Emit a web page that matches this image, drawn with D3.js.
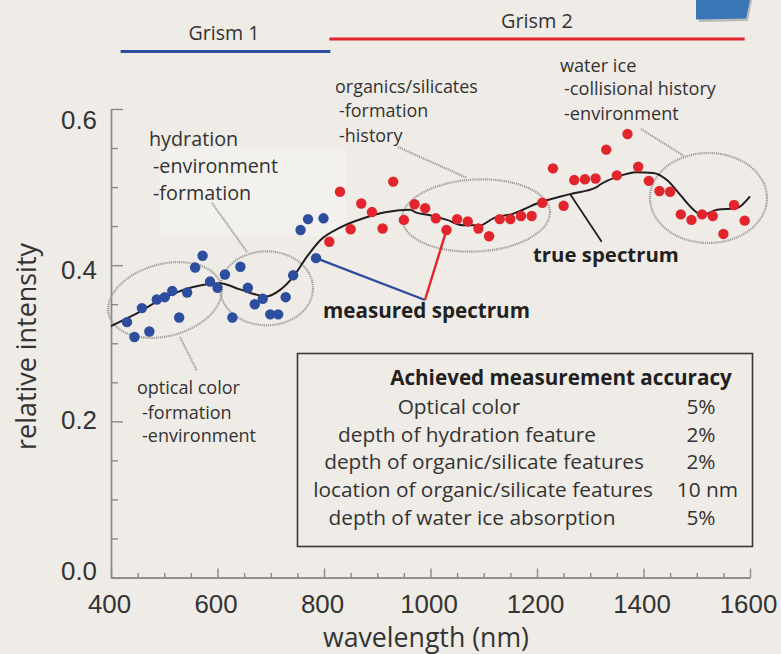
<!DOCTYPE html>
<html>
<head>
<meta charset="utf-8">
<script src="https://cdn.jsdelivr.net/npm/d3@7"></script>
<style>
  html, body { margin: 0; padding: 0; background: #efebe6; }
  svg { display: block; font-family: "Open Sans", "DejaVu Sans", sans-serif; }
</style>
</head>
<body>
<svg id="chart" width="781" height="654"></svg>
<script>
// ---- measured spectrum, grism 1 (visible) ----
const grism1Wavelength = [430, 444, 458, 472, 486, 501, 515, 528, 543, 558, 572, 586, 600, 614,
  628, 643, 657, 670, 685, 699, 714, 728, 742, 756, 770, 785, 799];
const grism1Intensity = [0.327, 0.308, 0.345, 0.315, 0.356, 0.359, 0.367, 0.333, 0.365, 0.397,
  0.412, 0.379, 0.371, 0.388, 0.333, 0.398, 0.371, 0.350, 0.357, 0.337, 0.337, 0.359, 0.387,
  0.445, 0.459, 0.409, 0.460];

// ---- measured spectrum, grism 2 (near infrared) ----
const grism2Wavelength = [810, 830, 850, 870, 890, 910, 930, 950, 970, 990, 1010, 1030, 1050,
  1070, 1090, 1110, 1130, 1150, 1170, 1190, 1210, 1230, 1250, 1270, 1290, 1310, 1330, 1350,
  1370, 1390, 1410, 1430, 1450, 1470, 1490, 1510, 1530, 1550, 1570, 1590];
const grism2Intensity = [0.430, 0.494, 0.446, 0.479, 0.468, 0.447, 0.507, 0.458, 0.478, 0.473,
  0.460, 0.445, 0.459, 0.456, 0.447, 0.437, 0.459, 0.459, 0.463, 0.463, 0.480, 0.524, 0.476,
  0.509, 0.510, 0.511, 0.548, 0.515, 0.568, 0.526, 0.508, 0.495, 0.494, 0.465, 0.458, 0.465,
  0.463, 0.440, 0.477, 0.457];

// ---- true (model) spectrum ----
const trueWavelength = [400, 442, 505, 567, 605, 642, 692, 717, 742, 768, 793, 830, 874, 918,
  962, 971, 999, 1031, 1062, 1093, 1118, 1156, 1200, 1262, 1312, 1318, 1350, 1387, 1418, 1444,
  1469, 1494, 1509, 1538, 1575, 1600];
const trueIntensity = [0.322, 0.336, 0.360, 0.374, 0.377, 0.369, 0.360, 0.368, 0.385, 0.411,
  0.432, 0.448, 0.460, 0.468, 0.471, 0.468, 0.464, 0.458, 0.451, 0.451, 0.460, 0.466, 0.479,
  0.491, 0.500, 0.503, 0.513, 0.519, 0.518, 0.509, 0.490, 0.471, 0.464, 0.471, 0.473, 0.488];

// ---- axis ticks ----
const xMajorTicks = [400, 600, 800, 1000, 1200, 1400, 1600];
const xMinorTicks = [450, 500, 550, 650, 700, 750, 850, 900, 950, 1050, 1100, 1150,
  1250, 1300, 1350, 1450, 1500, 1550];
const yMajorTicks = [0, 0.2, 0.4, 0.6];
const yMinorTicks = [0.05, 0.1, 0.15, 0.25, 0.3, 0.35, 0.45, 0.5, 0.55];

// ---- grism coverage ----
const grismNames = ["Grism 1", "Grism 2"];
const grismStart = [418, 810];
const grismEnd = [812, 1590];

// ---- accuracy table ----
const accuracyTitle = "Achieved measurement accuracy";
const accuracyItems = ["Optical color", "depth of hydration feature",
  "depth of organic/silicate features", "location of organic/silicate features",
  "depth of water ice absorption"];
const accuracyValues = ["5%", "2%", "2%", "10 nm", "5%"];

// ---- science annotations ----
const featureNotes = [
  ["hydration", "-environment", "-formation"],
  ["organics/silicates", "-formation", "-history"],
  ["water ice", "-collisional history", "-environment"],
  ["optical color", "-formation", "-environment"]
];

const svg = d3.select("#chart");
const W = 781, H = 654;
const plot = { left: 111, right: 750, top: 109, bottom: 577.5 };

const x = d3.scaleLinear().domain([400, 1600]).range([plot.left, plot.right]);
const y = d3.scaleLinear().domain([0, 0.6]).range([plot.bottom, plot.top]);
// tick label centres sit slightly apart from their ticks
const yLabel = d3.scaleLinear().domain([0, 0.6]).range([570, 119]);

const BLUE = "#2d4d9e", RED = "#e2252c", INK = "#231f20", AXIS = "#8a8a8a";
const HATCH = "#9d9d9d";

function fitFont(sel, target) {
  const w = sel.node().getComputedTextLength();
  const s = parseFloat(sel.style("font-size"));
  const ns = s * target / w;
  sel.style("font-size", ns + "px");
  return ns;
}

// background and a lighter panel behind the hydration note
svg.append("rect").attr("width", W).attr("height", H).attr("fill", "#efebe6");
svg.append("rect").attr("x", 160).attr("y", 148).attr("width", 186).attr("height", 88)
  .attr("fill", "#f3f1ed");

// corner tab
svg.append("path").attr("d", "M699,0 L752,0 Q750,11 748,21 L699,22 Z")
  .attr("fill", "#9a9a9a").attr("opacity", 0.6);
svg.append("path").attr("d", "M696,0 L750,0 Q748,10 746,18.5 L696,19.5 Z")
  .attr("fill", "#3a76b6");

// ---- axes ----
const gx = svg.append("g").attr("transform", `translate(0,${plot.bottom})`);
gx.append("g").call(d3.axisBottom(x).tickValues(xMinorTicks).tickSize(-4.5).tickFormat("").tickSizeOuter(0));
const gxMajor = gx.append("g").call(d3.axisBottom(x).tickValues(xMajorTicks).tickSize(-9)
  .tickFormat(d3.format("d")).tickSizeOuter(0));

const gy = svg.append("g").attr("transform", `translate(${plot.left},0)`);
gy.append("g").call(d3.axisLeft(y).tickValues(yMinorTicks).tickSize(-7).tickFormat("").tickSizeOuter(0));
const gyMajor = gy.append("g").call(d3.axisLeft(y).tickValues(yMajorTicks).tickSize(-12)
  .tickFormat(d3.format(".1f")).tickSizeOuter(0));

svg.selectAll(".domain, .tick line").attr("stroke", AXIS).attr("stroke-width", 1.4);

const yTickText = gyMajor.selectAll(".tick text")
  .attr("fill", "#333").attr("font-family", null).style("font-size", "26px")
  .attr("x", -14).attr("dy", null);
const tickSize = fitFont(gyMajor.selectAll(".tick text").filter(d => d === 0.6), 36);
yTickText.style("font-size", tickSize + "px")
  .attr("y", d => yLabel(d) - y(d) + tickSize * 0.36);

gxMajor.selectAll(".tick text")
  .attr("fill", "#333").attr("font-family", null).style("font-size", tickSize + "px")
  .attr("dy", null).attr("y", 35).attr("dx", -2);

// axis titles
const yTitle = svg.append("text").text("relative intensity")
  .attr("transform", "translate(36,346.5) rotate(-90)")
  .attr("text-anchor", "middle").attr("fill", "#333").style("font-size", "24px");
fitFont(yTitle, 207);
const xTitle = svg.append("text").text("wavelength (nm)")
  .attr("x", 426).attr("y", 647).attr("text-anchor", "middle")
  .attr("fill", "#333").style("font-size", "24px");
fitFont(xTitle, 206);

// ---- grism coverage bars ----
const grismY = [51.5, 39];
const grismLabelY = [40, 28];
const grismLabelX = [224, 537];
const grismLabelW = [71, 72];
const grismColor = [BLUE, RED];
grismNames.forEach((name, i) => {
  svg.append("line")
    .attr("x1", x(grismStart[i])).attr("x2", x(grismEnd[i]))
    .attr("y1", grismY[i]).attr("y2", grismY[i])
    .attr("stroke", grismColor[i]).attr("stroke-width", 3);
  const t = svg.append("text").text(name)
    .attr("x", grismLabelX[i]).attr("y", grismLabelY[i])
    .attr("text-anchor", "middle").attr("fill", "#333").style("font-size", "18px");
  fitFont(t, grismLabelW[i]);
});

// ---- feature regions (hatched ellipses) ----
const regionRadii = [[58, 36, -15], [46.5, 37, 0], [74, 36, -3], [58.5, 45, 0]];
const regionPx = [[165, 300], [266.5, 288.3], [476, 215.5], [708.5, 198]];
regionPx.forEach((c, i) => {
  const [rx, ry, rot] = regionRadii[i];
  svg.append("ellipse")
    .attr("transform", `translate(${c[0]},${c[1]}) rotate(${rot})`)
    .attr("rx", rx).attr("ry", ry)
    .attr("fill", "none").attr("stroke", HATCH).attr("stroke-width", 2.2)
    .attr("stroke-dasharray", "1.2,0.9");
});

// leader lines from notes to regions
const leaders = [[212, 203, 247, 252], [398, 147, 467, 178], [641, 129, 684, 156], [180, 337, 197, 371]];
leaders.forEach(l => {
  svg.append("line").attr("x1", l[0]).attr("y1", l[1]).attr("x2", l[2]).attr("y2", l[3])
    .attr("stroke", HATCH).attr("stroke-width", 2.2).attr("stroke-dasharray", "1.2,0.9");
});

// ---- notes text ----
const noteLayout = [
  { x: [149, 153, 153], y: [146, 173, 200], ref: 1, width: 125 },
  { x: [335, 339, 339], y: [93, 117, 141.5], ref: 0, width: 143 },
  { x: [560, 564, 564], y: [72, 95, 120], ref: 1, width: 152 },
  { x: [137, 142, 142], y: [394, 419, 442], ref: 0, width: 103 }
];
featureNotes.forEach((lines, i) => {
  const L = noteLayout[i];
  const g = svg.append("g").attr("fill", "#333");
  const ts = lines.map((s, j) => g.append("text").text(s)
    .attr("x", L.x[j]).attr("y", L.y[j]).style("font-size", "16px"));
  const fs = fitFont(ts[L.ref], L.width);
  ts.forEach(t => t.style("font-size", fs + "px"));
});

// ---- true spectrum ----
const trueData = trueWavelength.map((w, i) => [w, trueIntensity[i]]);
svg.append("path").datum(trueData)
  .attr("d", d3.line().x(d => x(d[0])).y(d => y(d[1])).curve(d3.curveMonotoneX))
  .attr("fill", "none").attr("stroke", INK).attr("stroke-width", 2);

// ---- measured points ----
const g1 = grism1Wavelength.map((w, i) => [w, grism1Intensity[i]]);
const g2 = grism2Wavelength.map((w, i) => [w, grism2Intensity[i]]);
svg.append("g").selectAll("circle").data(g1).join("circle")
  .attr("cx", d => x(d[0])).attr("cy", d => y(d[1])).attr("r", 5.2).attr("fill", BLUE);
svg.append("g").selectAll("circle").data(g2).join("circle")
  .attr("cx", d => x(d[0])).attr("cy", d => y(d[1])).attr("r", 5.2).attr("fill", RED);

// pointers for the measured / true spectrum labels
const joint = [425, 300];
const bluePick = g1[25], redPick = g2[11];
svg.append("line").attr("x1", x(bluePick[0])).attr("y1", y(bluePick[1]))
  .attr("x2", joint[0]).attr("y2", joint[1]).attr("stroke", BLUE).attr("stroke-width", 2.4);
svg.append("line").attr("x1", joint[0]).attr("y1", joint[1])
  .attr("x2", x(redPick[0])).attr("y2", y(redPick[1])).attr("stroke", RED).attr("stroke-width", 2.4);
svg.append("line").attr("x1", x(1262)).attr("y1", y(0.491))
  .attr("x2", 601.7).attr("y2", 241.7).attr("stroke", INK).attr("stroke-width", 1.8);

const measured = svg.append("text").text("measured spectrum")
  .attr("x", 323).attr("y", 318).attr("font-weight", 700).attr("fill", INK).style("font-size", "18px");
fitFont(measured, 207);
const trueLbl = svg.append("text").text("true spectrum")
  .attr("x", 533).attr("y", 262).attr("font-weight", 700).attr("fill", INK).style("font-size", "18px");
fitFont(trueLbl, 146);

// ---- accuracy table ----
svg.append("rect").attr("x", 297.5).attr("y", 353.5).attr("width", 455).attr("height", 193)
  .attr("fill", "none").attr("stroke", "#3a3a3a").attr("stroke-width", 1.6);
const title = svg.append("text").text(accuracyTitle)
  .attr("x", 561).attr("y", 385).attr("text-anchor", "middle")
  .attr("font-weight", 700).attr("fill", INK).style("font-size", "18px");
fitFont(title, 342);

const rowBase = [414, 441.5, 469, 496.5, 524.5];
const rowCenter = [459, 467, 484, 483, 472];
const valueCenter = [701, 701, 701, 707.5, 701];
const rows = accuracyItems.map((s, i) => svg.append("text").text(s)
  .attr("x", rowCenter[i]).attr("y", rowBase[i]).attr("text-anchor", "middle")
  .attr("fill", "#333").style("font-size", "18px"));
const rowSize = fitFont(rows[3], 340);
rows.forEach(r => r.style("font-size", rowSize + "px"));
accuracyValues.forEach((v, i) => {
  svg.append("text").text(v)
    .attr("x", valueCenter[i]).attr("y", rowBase[i]).attr("text-anchor", "middle")
    .attr("fill", "#333").style("font-size", rowSize + "px");
});
</script>
</body>
</html>
